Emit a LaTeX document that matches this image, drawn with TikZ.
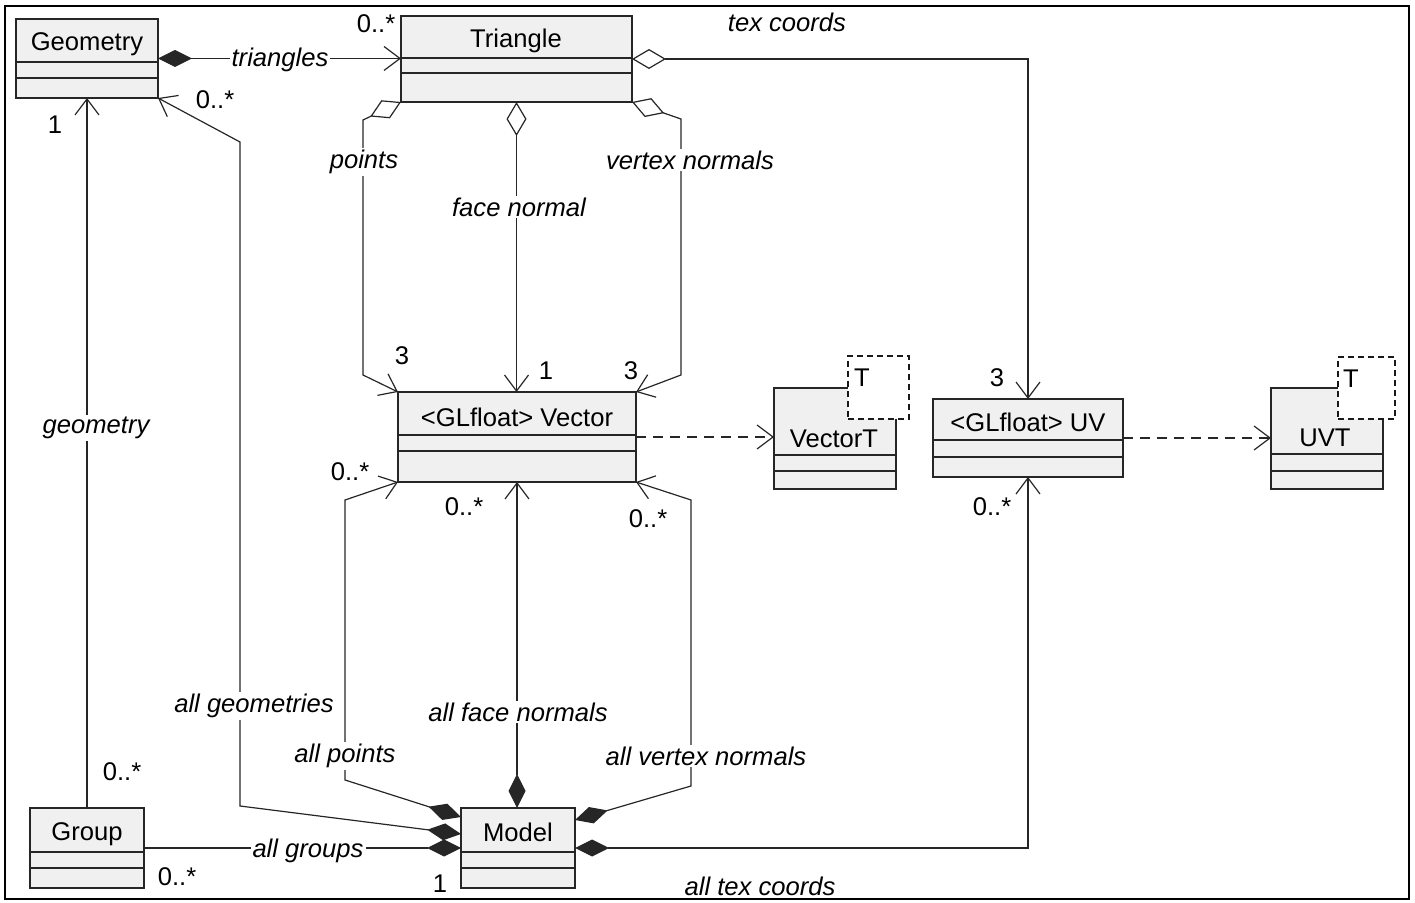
\documentclass[tikz,border=0pt]{standalone}
\usepackage{fontspec}
\setmainfont{Liberation Sans}
\usetikzlibrary{arrows.meta,fit,calc}
\begin{document}
\begin{tikzpicture}[x=0.5pt,y=-0.5pt,
  font=\fontsize{12.8}{15}\selectfont,
  cls/.style={draw=black!85,fill=gray!12,inner sep=0pt,outer sep=0pt,line width=0.6pt},
  sepline/.style={draw=black!85,line width=0.6pt},
  tbox/.style={draw=black!90,fill=white,line width=0.7pt,dash pattern=on 3pt off 2pt},
  cname/.style={inner sep=0pt},
  lab/.style={fill=white,inner sep=1pt,font=\fontsize{12.8}{15}\selectfont\itshape},
  labnf/.style={inner sep=1pt,font=\fontsize{12.8}{15}\selectfont\itshape},
  mult/.style={inner sep=0pt},
  conn/.style={draw=black!85,line width=0.6pt},
  dashpat/.style={dash pattern=on 5pt off 3.5pt},
  openarr/.tip={Straight Barb[length=8pt,width=12pt,line width=0.6pt]},
  compd/.tip={Diamond[length=17pt,width=8.5pt]},
  aggd/.tip={Diamond[fill=white,length=17pt,width=10pt,line width=0.6pt]}
]
\useasboundingbox (0,0) rectangle (1415,903);
\draw[line width=1.1pt] (5,6) rectangle (1409,899);

% Geometry
\node[cls,fit={(16,19)(158,98)}] (geo) {};
\draw[sepline] (16,62)--(158,62) (16,78)--(158,78);
\node[cname] (geoT) at (87,44) {Geometry};
% Triangle
\node[cls,fit={(401,16)(632,102)}] (tri) {};
\draw[sepline] (401,58)--(632,58) (401,73)--(632,73);
\node[cname] (triT) at (516,41) {Triangle};
% Vector
\node[cls,fit={(398,392)(636,482)}] (vec) {};
\draw[sepline] (398,435)--(636,435) (398,451)--(636,451);
\node[cname] (vecT) at (517,417) {<GLfloat> Vector};
% VectorT
\node[cls,fit={(774,388)(896,489)}] (vt) {};
\draw[sepline] (774,455)--(896,455) (774,471)--(896,471);
\node[tbox,fit={(848,356)(909,419)},inner sep=0pt] (vtP) {};
\node[cname] (vtPT) at (862,378) {T};
\node[cname] (vtT) at (834,439) {VectorT};
% UV
\node[cls,fit={(933,399)(1123,477)}] (uv) {};
\draw[sepline] (933,440)--(1123,440) (933,457)--(1123,457);
\node[cname] (uvT) at (1028,422) {<GLfloat> UV};
% UVT
\node[cls,fit={(1271,388)(1383,489)}] (uvt) {};
\draw[sepline] (1271,454)--(1383,454) (1271,471)--(1383,471);
\node[tbox,fit={(1338,357)(1395,419)},inner sep=0pt] (uvtP) {};
\node[cname] (uvtPT) at (1351,379) {T};
\node[cname] (uvtT) at (1325,438) {UVT};
% Group
\node[cls,fit={(30,808)(144,888)}] (grp) {};
\draw[sepline] (30,852)--(144,852) (30,868)--(144,868);
\node[cname] (grpT) at (87,834) {Group};
% Model
\node[cls,fit={(461,808)(575,888)}] (mdl) {};
\draw[sepline] (461,852)--(575,852) (461,868)--(575,868);
\node[cname] (mdlT) at (518,832) {Model};

% connectors from Triangle / Geometry
\draw[conn,{compd}-{openarr}] (geo.east) -- (geo.east -| tri.west);
\draw[conn,{aggd}-{openarr}] (tri.east) -- (tri.east -| uv.north) -- (uv.north);
\draw[conn,{aggd}-{openarr}] (tri.south west) -- ++(-38,18) -- ++(0,255) -- (vec.north west);
\draw[conn,{aggd}-{openarr}] (tri.south) -- (tri.south |- vec.north);
\draw[conn,{aggd}-{openarr}] (tri.south east) -- ++(49,17) -- ++(0,256) -- (vec.north east);
% realisations
\draw[conn,dashpat,-{openarr}] (vec.east) -- (vec.east -| vt.west);
\draw[conn,dashpat,-{openarr}] (uv.east) -- (uv.east -| uvt.west);
% Group
\draw[conn,-{openarr}] (grp.north) -- (grp.north |- geo.south);
\draw[conn,-{compd}] (grp.east) -- (grp.east -| mdl.west);
% Model
\draw[conn,{openarr}-{compd}] (geo.south east) -- ++(82,44) -- ++(0,664) -- ($(mdl.west)+(0,-14)$);
\draw[conn,{openarr}-{compd}] (vec.south west) -- ++(-53,18) -- ++(0,280) -- ($(mdl.west)+(0,-31)$);
\draw[conn,{openarr}-{compd}] (vec.south) -- (vec.south |- mdl.north);
\draw[conn,{openarr}-{compd}] (vec.south east) -- ++(55,18) -- ++(0,286) -- ($(mdl.east)+(0,-28)$);
\draw[conn,{openarr}-{compd}] (uv.south) -- (uv.south |- mdl.east) -- (mdl.east);

% role labels
\node[lab] (lTri) at (280,60) {triangles};
\node[labnf] (lTex) at (787,22) {tex coords};
\node[lab] (lPts) at (364,162) {points};
\node[lab] (lFn) at (519,207) {face normal};
\node[lab] (lVn) at (690,160) {vertex normals};
\node[lab] (lGeo) at (96,428) {geometry};
\node[lab] (lAG) at (254,706) {all geometries};
\node[lab] (lAP) at (345,756) {all points};
\node[lab] (lAF) at (518,712) {all face normals};
\node[lab] (lAV) at (706,756) {all vertex normals};
\node[lab] (lGr) at (308,851) {all groups};
\node[labnf] (lAT) at (760,886) {all tex coords};

% multiplicities
\node[mult] (m1) at (376,24) {0..*};
\node[mult] (m2) at (215,100) {0..*};
\node[mult] (m3) at (55,125) {1};
\node[mult] (m4) at (122,772) {0..*};
\node[mult] (m5) at (177,877) {0..*};
\node[mult] (m6) at (440,884) {1};
\node[mult] (m7) at (402,356) {3};
\node[mult] (m8) at (546,371) {1};
\node[mult] (m9) at (631,371) {3};
\node[mult] (m10) at (350,472) {0..*};
\node[mult] (m11) at (464,507) {0..*};
\node[mult] (m12) at (648,519) {0..*};
\node[mult] (m13) at (997,378) {3};
\node[mult] (m14) at (992,507) {0..*};
\end{tikzpicture}
\end{document}
